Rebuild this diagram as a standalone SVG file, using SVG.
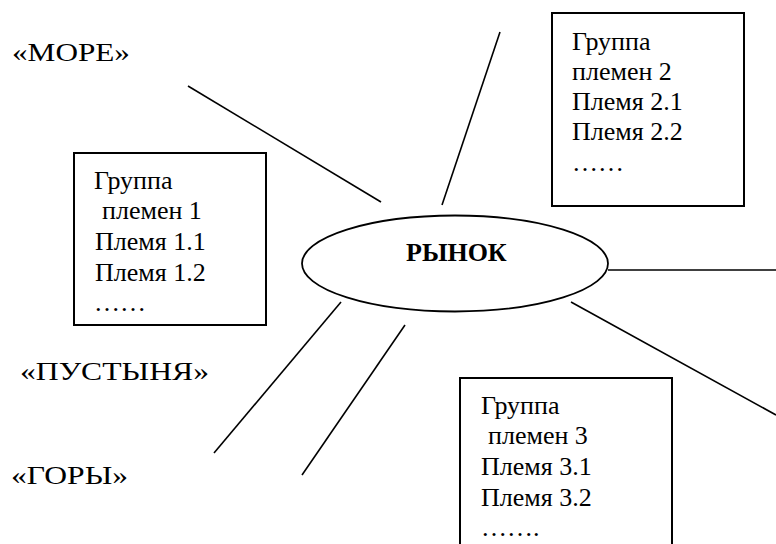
<svg xmlns="http://www.w3.org/2000/svg" width="776" height="544" viewBox="0 0 776 544">
<style>
.t{font-size:26px}
.lab{font-size:26px}
.box{fill:#fff;stroke:#000;stroke-width:2}
.ln{stroke:#000;stroke-width:1.6;fill:none}
</style>
<rect width="776" height="544" fill="#fff"/>
<g id="connectors">
<line class="ln" x1="188" y1="86" x2="381" y2="202"/>
<line class="ln" x1="500" y1="32" x2="442" y2="205"/>
<line class="ln" x1="608" y1="270" x2="776" y2="270"/>
<line class="ln" x1="571" y1="302" x2="776" y2="415"/>
<line class="ln" x1="341" y1="302" x2="214" y2="453"/>
<line class="ln" x1="405" y1="325" x2="302" y2="475"/>
</g>
<g font-family="Liberation Serif, DejaVu Serif, serif" fill="#000">
<g id="market">
<ellipse cx="455" cy="263.5" rx="153" ry="48" fill="#fff" stroke="#000" stroke-width="1.8"/>
<text x="406" y="261" font-size="26" font-weight="bold">РЫНОК</text>
</g>
<g id="group1">
<rect class="box" x="74" y="153" width="192" height="172"/>
<text class="t" x="94" y="188.5">Группа</text>
<text class="t" x="102" y="219">племен 1</text>
<text class="t" x="95" y="250">Племя 1.1</text>
<text class="t" x="95" y="280.5">Племя 1.2</text>
<text class="t" x="94" y="310.5">……</text>
</g>
<g id="group2">
<rect class="box" x="552" y="13" width="192" height="193"/>
<text class="t" x="572" y="50">Группа</text>
<text class="t" x="572" y="80">племен 2</text>
<text class="t" x="572" y="110">Племя 2.1</text>
<text class="t" x="572" y="140">Племя 2.2</text>
<text class="t" x="572" y="171">……</text>
</g>
<g id="group3">
<rect class="box" x="460" y="378" width="212" height="190"/>
<text class="t" x="481" y="413.5">Группа</text>
<text class="t" x="488" y="444">племен 3</text>
<text class="t" x="481" y="474.5">Племя 3.1</text>
<text class="t" x="481" y="505.5">Племя 3.2</text>
<text class="t" x="481" y="536">…….</text>
</g>
<g id="sea"><text class="lab" x="12" y="61" textLength="118" lengthAdjust="spacingAndGlyphs">«МОРЕ»</text></g>
<g id="desert"><text class="lab" x="20" y="379.5" textLength="189" lengthAdjust="spacingAndGlyphs">«ПУСТЫНЯ»</text></g>
<g id="mountains"><text class="lab" x="11" y="483.5" textLength="117" lengthAdjust="spacingAndGlyphs">«ГОРЫ»</text></g>
</g>
</svg>
